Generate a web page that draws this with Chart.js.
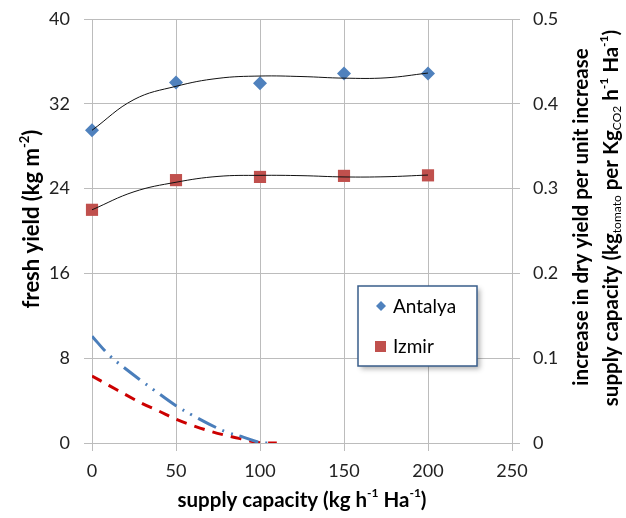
<!DOCTYPE html>
<html>
<head>
<meta charset="utf-8">
<script src="https://cdn.jsdelivr.net/npm/chart.js@4"></script>
<style>
  html, body { margin: 0; padding: 0; background: #fff; }
  #wrap { width: 626px; height: 518px; }
</style>
</head>
<body>
<div id="wrap"><canvas id="chart" width="626" height="518"></canvas></div>
<script>
// measured points
const capacity = [0, 50, 100, 150, 200];
const antalya = [29.5, 34.0, 33.95, 34.85, 34.85];
const izmir = [22.0, 24.8, 25.1, 25.2, 25.25];

// trend lines
const trendX = [0, 25, 50, 75, 100, 125, 150, 175, 200];
const antalyaTrend = [29.5, 32.4, 33.65, 34.4, 34.62, 34.57, 34.42, 34.45, 34.9];
const izmirTrend = [22.0, 23.7, 24.6, 25.15, 25.25, 25.22, 25.1, 25.12, 25.28];

// marginal increase curves (right axis)
const antalyaMarginX = [0, 10, 20, 30, 40, 50, 60, 70, 80, 90, 100, 105];
const antalyaMargin = [0.126, 0.104, 0.0875, 0.0725, 0.058, 0.044, 0.0325, 0.022, 0.013, 0.007, 0.0005, 0];
const izmirMarginX = [0, 10, 20, 30, 40, 50, 60, 70, 80, 90, 100, 110];
const izmirMargin = [0.079, 0.068, 0.057, 0.0465, 0.0375, 0.028, 0.0206, 0.0141, 0.0088, 0.0044, 0.0004, 0];

const xTicks = [0, 50, 100, 150, 200, 250];
const leftTicks = [0, 8, 16, 24, 32, 40];
const rightTicks = [0, 0.1, 0.2, 0.3, 0.4, 0.5];

const blue = '#4f81bd';
const red = '#c0504d';
const gridColor = '#bcbcbc';
const font = 'Lato, "Open Sans", sans-serif';

function pts(xs, ys) {
    return xs.map((x, i) => ({ x: x, y: ys[i] }));
}

// draws text made of pieces with super/subscripts
function richText(ctx, segs, cx, cy, angle) {
    ctx.save();
    ctx.translate(cx, cy);
    ctx.rotate(angle);
    let total = 0;
    segs.forEach(s => {
        ctx.font = (s.normal ? '' : 'bold ') + s.size + 'px ' + font;
        total += ctx.measureText(s.t).width;
    });
    let x = -total / 2;
    ctx.fillStyle = '#000';
    ctx.textBaseline = 'middle';
    ctx.textAlign = 'left';
    segs.forEach(s => {
        ctx.font = (s.normal ? '' : 'bold ') + s.size + 'px ' + font;
        ctx.fillText(s.t, x, s.dy || 0);
        x += ctx.measureText(s.t).width;
    });
    ctx.restore();
}

const titles = {
    id: 'titles',
    afterDraw(chart) {
        const ctx = chart.ctx;
        const B = 20.5, S = 12;
        richText(ctx, [
            { t: 'fresh yield (kg m', size: 22 },
            { t: '-2', size: 13, dy: -7 },
            { t: ')', size: 22 }
        ], 32, 219, -Math.PI / 2);
        richText(ctx, [
            { t: 'supply capacity (kg h', size: B },
            { t: '-1', size: S, dy: -7 },
            { t: ' Ha', size: B },
            { t: '-1', size: S, dy: -7 },
            { t: ')', size: B }
        ], 302, 500, 0);
        richText(ctx, [
            { t: 'increase in dry yield per unit increase', size: B }
        ], 581, 217, -Math.PI / 2);
        richText(ctx, [
            { t: 'supply capacity (kg', size: B },
            { t: 'tomato', size: S, dy: 6, normal: true },
            { t: ' per Kg', size: B },
            { t: 'CO2', size: S, dy: 6, normal: true },
            { t: ' h', size: B },
            { t: '-1', size: S, dy: -7 },
            { t: ' Ha', size: B },
            { t: '-1', size: S, dy: -7 },
            { t: ')', size: B }
        ], 611, 218, -Math.PI / 2);
    }
};

const legendBox = {
    id: 'legendBox',
    afterDraw(chart) {
        const ctx = chart.ctx;
        ctx.save();
        ctx.shadowColor = 'rgba(0,0,0,0.3)';
        ctx.shadowOffsetX = 3;
        ctx.shadowOffsetY = 3;
        ctx.shadowBlur = 5;
        ctx.fillStyle = '#fff';
        ctx.fillRect(358, 286, 119, 80);
        ctx.restore();
        ctx.save();
        ctx.strokeStyle = '#385d8a';
        ctx.lineWidth = 1.5;
        ctx.strokeRect(358, 286, 119, 80);
        // diamond
        ctx.fillStyle = blue;
        ctx.beginPath();
        ctx.moveTo(381, 301);
        ctx.lineTo(386, 306);
        ctx.lineTo(381, 311);
        ctx.lineTo(376, 306);
        ctx.closePath();
        ctx.fill();
        // square
        ctx.fillStyle = red;
        ctx.fillRect(375, 341, 11, 11);
        ctx.fillStyle = '#000';
        ctx.font = '19px ' + font;
        ctx.textBaseline = 'middle';
        ctx.fillText('Antalya', 393, 307);
        ctx.fillText('Izmir', 393, 347);
        ctx.restore();
    }
};

// keep tick label overflow from pushing the plot area down
function fitY(width) {
    return s => {
        s.width = width;
        s.paddingTop = 0;
        s.paddingBottom = 0;
    };
}

const ctx = document.getElementById('chart');

new Chart(ctx, {
    type: 'scatter',
    data: {
        datasets: [
            {
                label: 'Antalya',
                data: pts(capacity, antalya),
                pointStyle: 'rectRot',
                pointRadius: 7,
                backgroundColor: blue,
                borderColor: blue,
                borderWidth: 0,
                clip: false,
                yAxisID: 'y',
                order: 3
            },
            {
                label: 'Izmir',
                data: pts(capacity, izmir),
                pointStyle: 'rect',
                pointRadius: 8.6,
                backgroundColor: red,
                borderColor: red,
                borderWidth: 0,
                clip: false,
                yAxisID: 'y',
                order: 3
            },
            {
                label: 'Antalya trend',
                data: pts(trendX, antalyaTrend),
                showLine: true,
                tension: 0.4,
                pointRadius: 0,
                borderColor: '#111',
                borderWidth: 1,
                yAxisID: 'y',
                order: 1
            },
            {
                label: 'Izmir trend',
                data: pts(trendX, izmirTrend),
                showLine: true,
                tension: 0.4,
                pointRadius: 0,
                borderColor: '#111',
                borderWidth: 1,
                yAxisID: 'y',
                order: 1
            },
            {
                label: 'Antalya marginal',
                data: pts(antalyaMarginX, antalyaMargin),
                showLine: true,
                tension: 0.4,
                pointRadius: 0,
                borderColor: '#4a7ebb',
                borderWidth: 3,
                borderDash: [20, 7, 2, 7, 2, 7],
                yAxisID: 'y2',
                order: 2
            },
            {
                label: 'Izmir marginal',
                data: pts(izmirMarginX, izmirMargin),
                showLine: true,
                tension: 0.4,
                pointRadius: 0,
                borderColor: '#cc0000',
                borderWidth: 3,
                borderDash: [11, 8],
                yAxisID: 'y2',
                order: 2
            }
        ]
    },
    options: {
        responsive: false,
        animation: false,
        layout: { padding: { top: 19, left: 0, right: 0, bottom: 0 } },
        plugins: {
            legend: { display: false },
            tooltip: { enabled: false }
        },
        scales: {
            x: {
                type: 'linear',
                min: 0,
                max: 250,
                afterBuildTicks: s => { s.ticks = xTicks.map(v => ({ value: v })); },
                afterFit: s => { s.height = 75; },
                grid: { color: gridColor, tickLength: 8 },
                border: { color: gridColor },
                ticks: { color: '#222', padding: 9, font: { family: font, size: 18 } }
            },
            y: {
                position: 'left',
                min: 0,
                max: 40,
                afterBuildTicks: s => { s.ticks = leftTicks.map(v => ({ value: v })); },
                afterFit: fitY(92),
                grid: { color: gridColor, tickLength: 8 },
                border: { color: gridColor },
                ticks: { color: '#222', padding: 14, font: { family: font, size: 18 } }
            },
            y2: {
                position: 'right',
                min: 0,
                max: 0.5,
                afterBuildTicks: s => { s.ticks = rightTicks.map(v => ({ value: v })); },
                afterFit: fitY(114),
                grid: { color: gridColor, tickLength: 8, drawOnChartArea: false },
                border: { color: gridColor },
                ticks: {
                    color: '#222',
                    padding: 13,
                    font: { family: font, size: 18 },
                    callback: v => String(v)
                }
            }
        }
    },
    plugins: [titles, legendBox]
});
</script>
</body>
</html>
